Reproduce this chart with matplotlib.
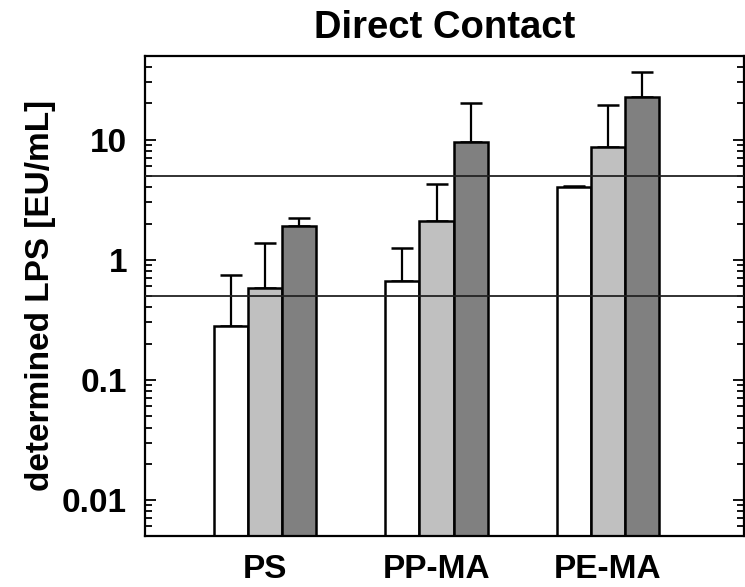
import matplotlib
matplotlib.use("Agg")
import matplotlib.pyplot as plt
import numpy as np
from matplotlib.ticker import LogLocator, FixedLocator, FixedFormatter, NullFormatter

plt.rcParams['font.family'] = ['Liberation Sans', 'DejaVu Sans']
plt.rcParams['font.weight'] = 'bold'

groups = ['PS', 'PP-MA', 'PE-MA']
white_vals = [0.28, 0.66, 4.06]
white_err = [0.465, 0.58, 0.04]
light_vals = [0.577, 2.09, 8.6]
light_err = [0.81, 2.15, 10.8]
dark_vals = [1.92, 9.5, 22.5]
dark_err = [0.32, 10.5, 14.2]
ref_lines = [5, 0.5]
ytick_vals = [0.01, 0.1, 1, 10]
ytick_labels = ['0.01', '0.1', '1', '10']

series = [(white_vals, white_err, '#ffffff'),
          (light_vals, light_err, '#c0c0c0'),
          (dark_vals, dark_err, '#808080')]

fig = plt.figure(figsize=(7.45, 5.87), dpi=100)
ax = fig.add_axes([145/745, 1-536/587, 599/745, (536-55.7)/587])
ax.set_yscale('log')

x = np.arange(len(groups))
w = 0.2
for j, (vals, err, col) in enumerate(series):
    pos = x + (j - 1) * w
    ax.bar(pos, vals, width=w, bottom=1e-4, color=col, edgecolor='black',
           linewidth=1.8, zorder=2)
    ax.errorbar(pos, vals, yerr=[np.zeros(len(vals)), err], fmt='none',
                ecolor='black', elinewidth=1.6, capsize=8, capthick=1.8, zorder=1)

for v in ref_lines:
    ax.axhline(v, color='#222222', linewidth=1.3, zorder=3)

ax.set_xlim(-0.70, 2.793)
ax.set_ylim(0.005, 50)

ax.set_xticks(x)
ax.set_xticklabels(groups, fontsize=24, fontweight='bold')
ax.tick_params(axis='x', length=0, pad=13)

ax.yaxis.set_major_locator(FixedLocator(ytick_vals))
ax.yaxis.set_major_formatter(FixedFormatter(ytick_labels))
ax.yaxis.set_minor_locator(LogLocator(base=10, subs=np.arange(2, 10)))
ax.yaxis.set_minor_formatter(NullFormatter())
ax.tick_params(axis='y', which='both', direction='in', left=True, right=True,
               labelsize=24, pad=13)
ax.tick_params(axis='y', which='major', length=8, width=1.3)
ax.tick_params(axis='y', which='minor', length=5, width=1.3)
for lab in ax.get_yticklabels():
    lab.set_fontweight('bold')

for sp in ax.spines.values():
    sp.set_linewidth(1.6)

ax.set_ylabel('determined LPS [EU/mL]', fontsize=24, fontweight='bold')
ax.yaxis.set_label_coords(-0.1486, 0.5)
ax.set_title('Direct Contact', fontsize=27.5, fontweight='bold', pad=13)

fig.savefig('out.png', dpi=100)
